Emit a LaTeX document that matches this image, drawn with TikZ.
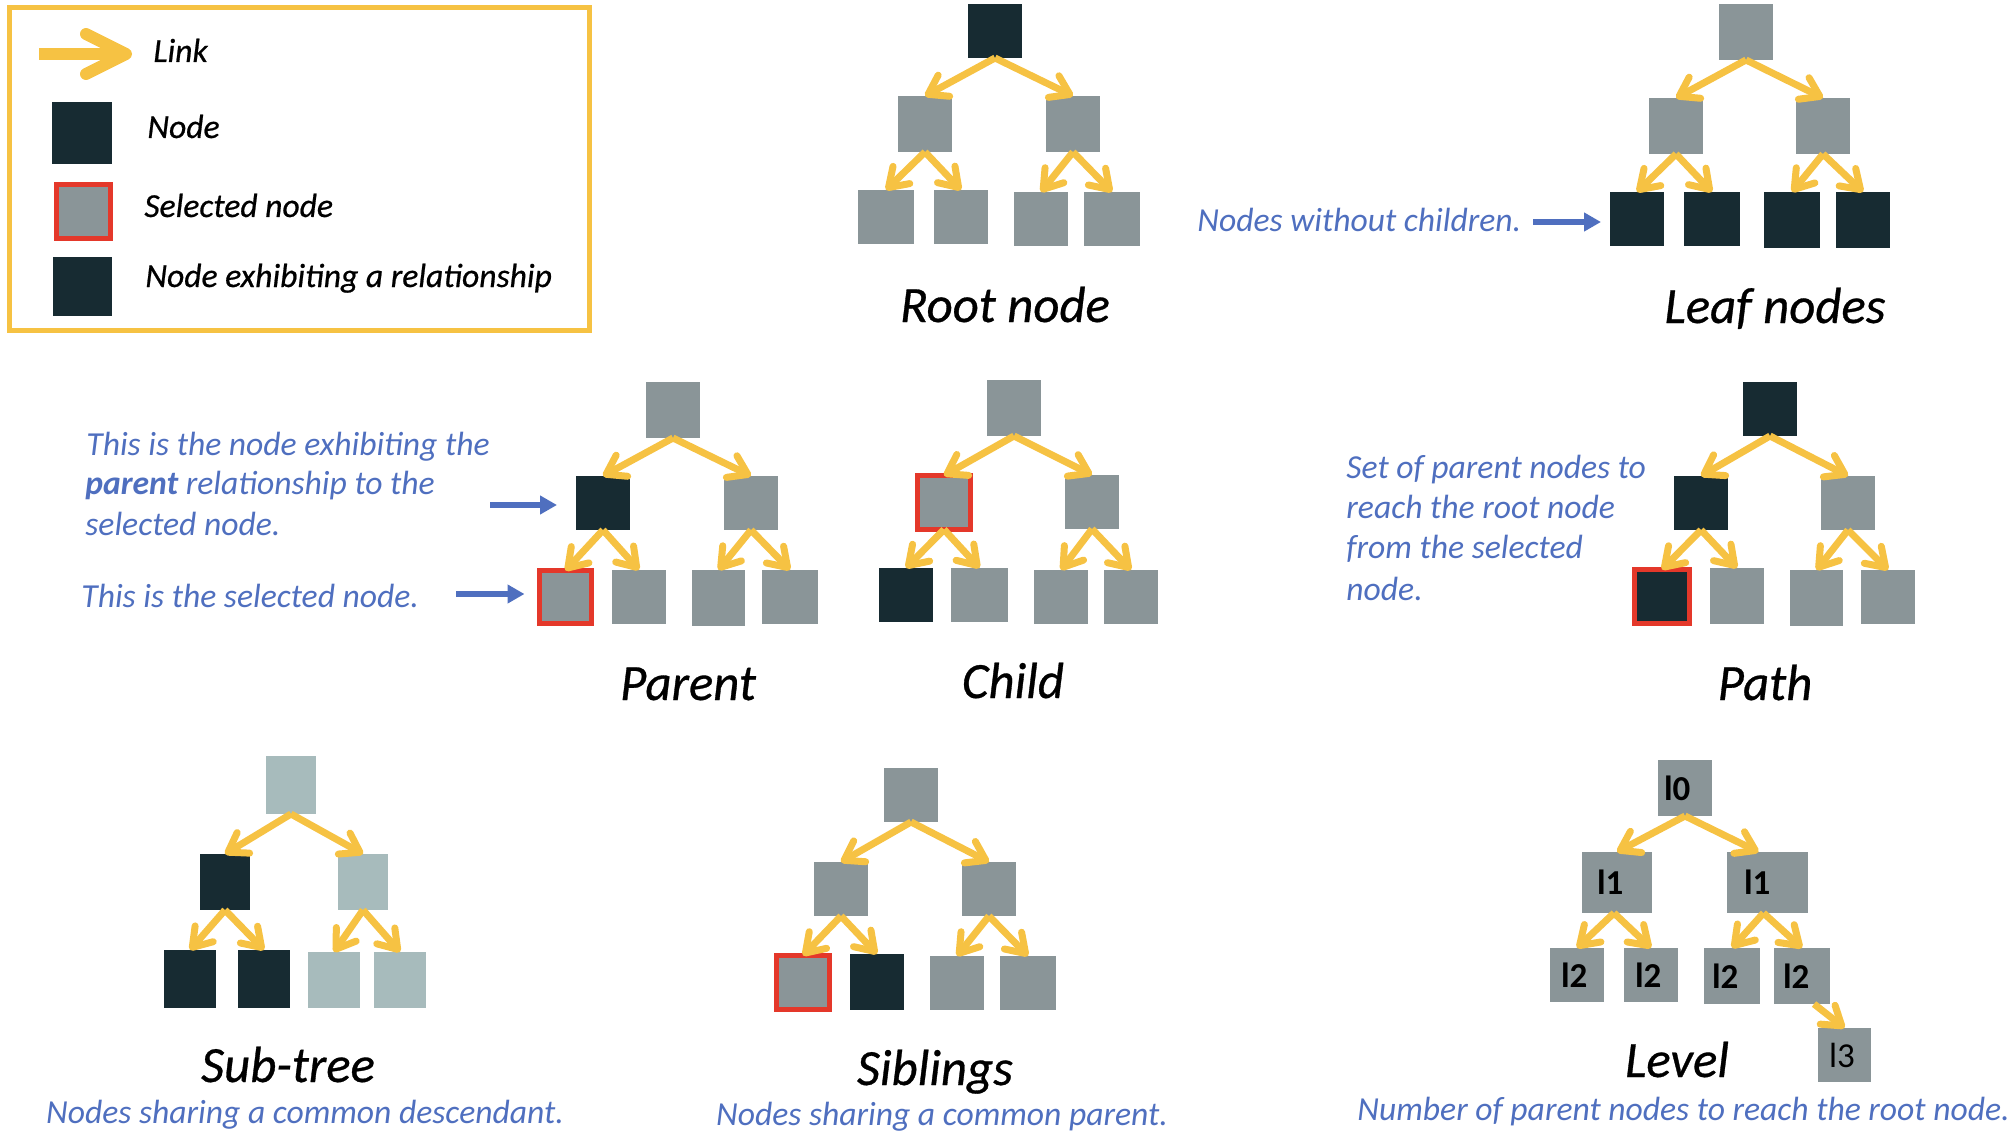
\documentclass[tikz,border=0pt]{standalone}
\usepackage{fontspec}
\setmainfont{Carlito}
\newfontfamily\heavyfont[FakeBold=0.6]{Carlito}
\usetikzlibrary{arrows.meta}
\definecolor{ydark}{HTML}{172B32}
\definecolor{ygray}{HTML}{8A9598}
\definecolor{ylight}{HTML}{A7BBBC}
\definecolor{yred}{HTML}{E4382A}
\definecolor{yyel}{HTML}{F6C243}
\definecolor{yblue}{HTML}{4F6FBF}
\begin{document}
\begin{tikzpicture}[x=0.5pt,y=-0.5pt,
 box/.style={rectangle, inner sep=0pt, outer sep=0pt, minimum width=27pt, minimum height=28pt},
 gn/.style={box, fill=ygray},
 dn/.style={box, fill=ydark},
 ln/.style={box, fill=ylight},
 sel/.style={box, draw=yred, line width=2.5pt, minimum width=26.5pt, minimum height=27pt},
 link/.style={draw=yyel, line width=3.5pt, -{Straight Barb[round,length=9pt,width=12pt]}},
 barrow/.style={draw=yblue, line width=3pt, -{Triangle[length=8.5pt,width=9pt]}},
 ttl/.style={font=\heavyfont\itshape\fontsize{25.4}{30}\selectfont, anchor=base, inner sep=0pt},
 bluetxt/.style={text=yblue, font=\itshape\fontsize{16.8}{20}\selectfont, inner sep=0pt},
 legtxt/.style={font=\heavyfont\itshape\fontsize{16.8}{19}\selectfont, anchor=base west, inner sep=0pt},
 lv/.style={gn, font=\bfseries\fontsize{17.5}{20}\selectfont, align=left},
]
\useasboundingbox (0,0) rectangle (2012,1134);
% ---------------- legend
\draw[yyel, line width=2.5pt] (9.5,7.5) rectangle (589.5,330.5);
\coordinate (k0) at (39,54); \coordinate (k1) at (132,54);
\draw[yyel, line width=6pt, -{Straight Barb[round,length=20pt,width=20pt]}] (k0) -- (k1);
\node[dn, minimum width=30pt, minimum height=31pt] (kn) at (82,133) {};
\node[sel, fill=ygray, minimum width=27pt, minimum height=27pt] (ks) at (83.5,211.5) {};
\node[dn, minimum width=29.5pt, minimum height=29.5pt] (kr) at (82.5,286.5) {};
\node[legtxt] (kt1) at (153,62) {Link};
\node[legtxt] (kt2) at (147,138) {Node};
\node[legtxt] (kt3) at (144,217) {Selected node};
\node[legtxt] (kt4) at (145,287) {Node exhibiting a relationship};
% ---------------- Root node
\node[dn, minimum height=27pt] (R0) at (995,31) {};
\node[gn] (R1) at (925,124) {};
\node[gn] (R2) at (1073,124) {};
\node[gn, minimum width=28pt, minimum height=27pt] (R3) at (886,217) {};
\node[gn, minimum height=27pt] (R4) at (961,217) {};
\node[gn, minimum height=27pt] (R5) at (1041,219) {};
\node[gn, minimum width=28pt, minimum height=27pt] (R6) at (1112,219) {};
\draw[link] (R0.south) -- (R1.north);
\draw[link] (R0.south) -- (R2.north);
\draw[link] (R1.south) -- (R3.north);
\draw[link] (R1.south) -- (R4.north);
\draw[link] (R2.south) -- (R5.north);
\draw[link] (R2.south) -- (R6.north);
\node[ttl] (tR) at (1005,322) {Root node};
% ---------------- Leaf nodes
\node[gn] (L0) at (1746,32) {};
\node[gn] (L1) at (1676,126) {};
\node[gn, minimum width=27pt] (L2) at (1823,126) {};
\node[dn, minimum height=27pt] (L3) at (1637,219) {};
\node[dn, minimum width=28pt, minimum height=27pt] (L4) at (1712,219) {};
\node[dn, minimum width=28pt] (L5) at (1792,220) {};
\node[dn] (L6) at (1863,220) {};
\draw[link] (L0.south) -- (L1.north);
\draw[link] (L0.south) -- (L2.north);
\draw[link] (L1.south) -- (L3.north);
\draw[link] (L1.south) -- (L4.north);
\draw[link] (L2.south) -- (L5.north);
\draw[link] (L2.south) -- (L6.north);
\node[ttl] (tL) at (1775,323) {Leaf nodes};
\node[bluetxt, anchor=base west] (nwc) at (1197,232) {Nodes without children.};
\coordinate (a1) at (1533,222);
\draw[barrow, shorten >=4.5pt] (a1) -- (a1 -| L3.west);
% ---------------- Parent
\node[gn] (P0) at (673,410) {};
\node[dn, minimum height=27pt] (P1) at (603,503) {};
\node[gn, minimum height=27pt] (P2) at (751,503) {};
\node[sel, fill=ygray, minimum width=26pt, minimum height=26.5pt] (P3) at (565.5,597) {};
\node[gn, minimum height=27pt] (P4) at (639,597) {};
\node[gn, minimum width=26.5pt] (P5) at (718.5,598) {};
\node[gn, minimum width=28pt, minimum height=27pt] (P6) at (790,597) {};
\draw[link] (P0.south) -- (P1.north);
\draw[link] (P0.south) -- (P2.north);
\draw[link] (P1.south) -- (P3.north);
\draw[link] (P1.south) -- (P4.north);
\draw[link] (P2.south) -- (P5.north);
\draw[link] (P2.south) -- (P6.north);
\node[ttl] (tP) at (688,700) {Parent};
\node[bluetxt, anchor=base west] (pt1) at (86,455) {This is the node exhibiting the};
\node[bluetxt, anchor=base west] (pt2) at (85,494) {\textbf{parent} relationship to the};
\node[bluetxt, anchor=base west] (pt3) at (85,535) {selected node.};
\node[bluetxt, anchor=base west] (pt4) at (81,607) {This is the selected node.};
\coordinate (a2) at (490,505);
\draw[barrow, shorten >=9.5pt] (a2) -- (a2 -| P1.west);
\coordinate (a3) at (456,594);
\draw[barrow, shorten >=7.5pt] (a3) -- (a3 -| P3.west);
% ---------------- Child
\node[gn] (C0) at (1014,408) {};
\node[sel, fill=ygray] (C1) at (944,502.5) {};
\node[gn, minimum height=27pt] (C2) at (1092,502) {};
\node[dn, minimum height=27pt] (C3) at (906,595) {};
\node[gn, minimum width=28.5pt, minimum height=27pt] (C4) at (979.5,595) {};
\node[gn, minimum height=27pt] (C5) at (1061,597) {};
\node[gn, minimum height=27pt] (C6) at (1131,597) {};
\draw[link] (C0.south) -- (C1.north);
\draw[link] (C0.south) -- (C2.north);
\draw[link] (C1.south) -- (C3.north);
\draw[link] (C1.south) -- (C4.north);
\draw[link] (C2.south) -- (C5.north);
\draw[link] (C2.south) -- (C6.north);
\node[ttl] (tC) at (1013,698) {Child};
% ---------------- Path
\node[dn, minimum height=27pt] (T0) at (1770,409) {};
\node[dn, minimum height=27pt] (T1) at (1701,503) {};
\node[gn, minimum height=27pt] (T2) at (1848,503) {};
\node[sel, fill=ydark, minimum width=27.5pt] (T3) at (1662,596.5) {};
\node[gn] (T4) at (1737,596) {};
\node[gn, minimum width=26.5pt] (T5) at (1816.5,598) {};
\node[gn, minimum height=27pt] (T6) at (1888,597) {};
\draw[link] (T0.south) -- (T1.north);
\draw[link] (T0.south) -- (T2.north);
\draw[link] (T1.south) -- (T3.north);
\draw[link] (T1.south) -- (T4.north);
\draw[link] (T2.south) -- (T5.north);
\draw[link] (T2.south) -- (T6.north);
\node[ttl] (tT) at (1765,700) {Path};
\node[bluetxt, anchor=base west] (ht1) at (1346,478) {Set of parent nodes to};
\node[bluetxt, anchor=base west] (ht2) at (1346,518) {reach the root node};
\node[bluetxt, anchor=base west] (ht3) at (1346,558) {from the selected};
\node[bluetxt, anchor=base west] (ht4) at (1346,600) {node.};
% ---------------- Sub-tree
\node[ln, minimum width=25pt, minimum height=29pt] (S0) at (291,785) {};
\node[dn, minimum width=25pt] (S1) at (225,882) {};
\node[ln, minimum width=25pt] (S2) at (363,882) {};
\node[dn, minimum width=26pt, minimum height=29pt] (S3) at (190,979) {};
\node[dn, minimum width=26pt, minimum height=29pt] (S4) at (264,979) {};
\node[ln, minimum width=26pt] (S5) at (334,980) {};
\node[ln, minimum width=26pt] (S6) at (400,980) {};
\draw[link] (S0.south) -- (S1.north);
\draw[link] (S0.south) -- (S2.north);
\draw[link] (S1.south) -- (S3.north);
\draw[link] (S1.south) -- (S4.north);
\draw[link] (S2.south) -- (S5.north);
\draw[link] (S2.south) -- (S6.north);
\node[ttl] (tS) at (288,1082) {Sub-tree};
\node[bluetxt, anchor=base] (st) at (305,1123) {Nodes sharing a common descendant.};
% ---------------- Siblings
\node[gn, minimum height=27pt] (B0) at (911,795) {};
\node[gn, minimum height=27pt] (B1) at (841,889) {};
\node[gn, minimum height=27pt] (B2) at (989,889) {};
\node[sel, fill=ygray] (B3) at (803,982.5) {};
\node[dn] (B4) at (877,982) {};
\node[gn, minimum height=27pt] (B5) at (957,983) {};
\node[gn, minimum width=28pt, minimum height=27pt] (B6) at (1028,983) {};
\draw[link] (B0.south) -- (B1.north);
\draw[link] (B0.south) -- (B2.north);
\draw[link] (B1.south) -- (B3.north);
\draw[link] (B1.south) -- (B4.north);
\draw[link] (B2.south) -- (B5.north);
\draw[link] (B2.south) -- (B6.north);
\node[ttl] (tB) at (935,1085) {Siblings};
\node[bluetxt, anchor=base] (bt) at (942,1125) {Nodes sharing a common parent.};
% ---------------- Level
\node[lv, minimum width=27pt, minimum height=28pt, inner xsep=3pt, text width=21pt] (V0) at (1685,788) {l0};
\node[lv, minimum width=35pt, minimum height=30.5pt, inner xsep=7.5pt, text width=20pt] (V1) at (1617,882.5) {l1};
\node[lv, minimum width=40.5pt, minimum height=30.5pt, inner xsep=8.5pt, text width=23.5pt] (V2) at (1767.5,882.5) {l1};
\node[lv, minimum width=27pt, minimum height=27pt, inner xsep=5.5pt, text width=16pt] (V3) at (1577,975) {l2};
\node[lv, minimum width=27pt, minimum height=27pt, inner xsep=5.5pt, text width=16pt] (V4) at (1651,975) {l2};
\node[lv, minimum width=28pt, minimum height=28pt, inner xsep=4pt, text width=20pt] (V5) at (1732,976) {l2};
\node[lv, minimum width=28pt, minimum height=28pt, inner xsep=4.5pt, text width=19pt] (V6) at (1802,976) {l2};
\node[lv, font=\fontsize{17.5}{20}\selectfont, minimum width=26.5pt, minimum height=27pt, inner xsep=5.5pt, text width=15.5pt] (V7) at (1844.5,1055) {l3};
\draw[link] (V0.south) -- (V1.north);
\draw[link] (V0.south) -- ([xshift=-4.5pt]V2.north);
\draw[link] ([xshift=-1.5pt]V1.south) -- (V3.north);
\draw[link] ([xshift=-1.5pt]V1.south) -- (V4.north);
\draw[link] ([xshift=-2pt]V2.south) -- (V5.north);
\draw[link] ([xshift=-2pt]V2.south) -- (V6.north);
\draw[link] ([xshift=6pt]V6.south) -- (V7.north);
\node[ttl] (tV) at (1677,1077) {Level};
\node[bluetxt, anchor=base] (vt) at (1683.5,1120) {Number of parent nodes to reach the root node.};
\end{tikzpicture}
\end{document}
